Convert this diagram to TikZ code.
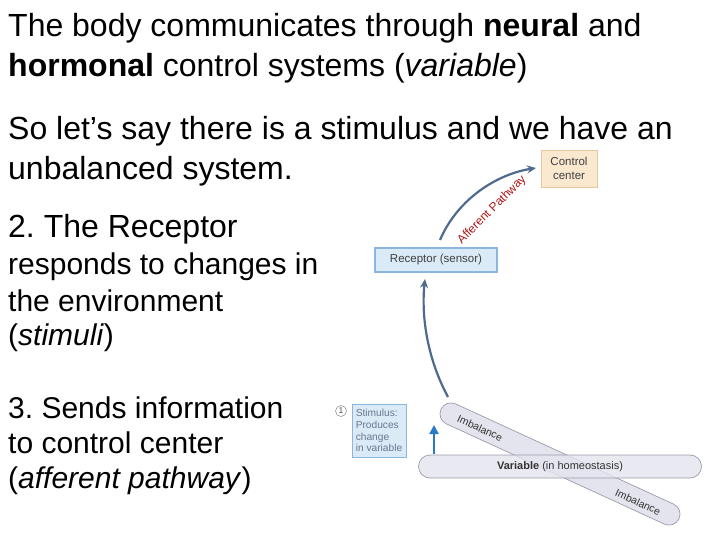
\documentclass[tikz,border=0pt]{standalone}
\usepackage{fontspec}
\setmainfont{Liberation Sans}
\usetikzlibrary{arrows.meta}
\definecolor{arrowgray}{HTML}{4E6A8E}
\definecolor{bluefill}{HTML}{DAEAF7}
\definecolor{blueedge}{HTML}{8DB6DC}
\definecolor{orangefill}{HTML}{FAE8CF}
\definecolor{orangeedge}{HTML}{E6C89C}
\definecolor{barfill}{HTML}{E4E4EE}
\definecolor{baredge}{HTML}{9C9CAC}
\definecolor{pathred}{HTML}{B01818}
\definecolor{stimtext}{HTML}{6A7890}
\definecolor{stimblue}{HTML}{2A78C8}
\frenchspacing
\tikzset{
  big/.style={anchor=base west, inner sep=0pt, font=\fontsize{32}{38}\selectfont},
  mid/.style={anchor=base west, inner sep=0pt, font=\fontsize{30}{35}\selectfont},
  bluebox/.style={draw=blueedge, fill=bluefill, line width=1.2pt, inner sep=1pt, text=black!75},
  orangebox/.style={draw=orangeedge, fill=orangefill, line width=0.8pt, inner sep=1pt, text=black!75},
  bar/.style={draw=baredge, fill=barfill, line width=0.7pt},
  curvearrow/.style={draw=arrowgray, line width=2.2pt, -{Stealth[length=9pt,width=8pt]}},
}
\begin{document}
\begin{tikzpicture}[x=1pt,y=-1pt]
\useasboundingbox[fill=white] (0,0) rectangle (720,540);

% left text
\node[big] (t1) at (8,37) {The body communicates through \textbf{neural} and};
\node[big] (t2) at (8,77) {\textbf{hormonal} control systems (\textit{variable})};
\node[big] (t3) at (8,140) {So let’s say there is a stimulus and we have an};
\node[big] (t4) at (8,180) {unbalanced system.};
\node[big] (t5) at (8,237) {2. The Receptor};
\node[mid] (t6) at (8,274) {responds to changes in};
\node[mid] (t7) at (8,311) {the environment};
\node[mid] (t8) at (8,345) {(\textit{stimuli})};
\node[mid] (t9) at (8,418) {3. Sends information};
\node[mid] (t10) at (8,453) {to control center};
\node[mid] (t11) at (8,488) {(\textit{afferent pathway})};

% diagonal imbalance bar
\node[bar, rounded corners=11pt, minimum width=262pt, minimum height=22pt, rotate=-24.7] (diag) at (560,464) {};
\node[rotate=-24.7, font=\fontsize{10.5}{12}\selectfont, text=black!80] (imb1) at (480,428) {Imbalance};
\node[rotate=-24.7, font=\fontsize{10.5}{12}\selectfont, text=black!80] (imb2) at (638,502) {Imbalance};

% horizontal variable bar
\node[bar, fill opacity=0.8, text opacity=1, rounded corners=11.5pt, minimum width=283pt, minimum height=23pt, font=\fontsize{11}{12}\selectfont, text=black!80] (var) at (560,466.5) {\textbf{Variable} (in homeostasis)};

% boxes
\node[orangebox, minimum width=56pt, minimum height=37pt, align=center, font=\fontsize{11.5}{13.5}\selectfont] (cc) at (569,168.5) {Control\\center};
\node[bluebox, minimum width=122pt, minimum height=24pt, font=\fontsize{11.5}{13}\selectfont] (rec) at (436,260) {Receptor (sensor)};
\node[bluebox, line width=0.9pt, minimum width=54pt, minimum height=53pt, align=left, text=stimtext, font=\fontsize{10.2}{11.8}\selectfont, inner sep=1.5pt] (stim) at (379,430.5) {Stimulus:\\Produces\\change\\in variable};
\node[draw=black!55, circle, inner sep=0pt, minimum size=11pt, font=\fontsize{8.5}{10}\selectfont, text=black!70] (n1) at (341,411) {1};

% connectors
\coordinate (a1s) at (440,240);
\coordinate (a1e) at (536,168);
\draw[curvearrow] (a1s) .. controls (458,198) and (498,174) .. (a1e);
\node[rotate=45, text=pathred, font=\fontsize{12}{14}\selectfont, inner sep=0pt] (aff) at (492,210) {Afferent Pathway};

\coordinate (a2s) at (448,397);
\coordinate (a2e) at (425,279);
\draw[curvearrow] (a2s) .. controls (428,360) and (421,318) .. (a2e);

\coordinate (bs) at (434,454);
\coordinate (be) at (434,425);
\draw[draw=stimblue, line width=2.4pt, -{Triangle[length=9pt,width=9pt]}] (bs) -- (be);
\end{tikzpicture}
\end{document}
